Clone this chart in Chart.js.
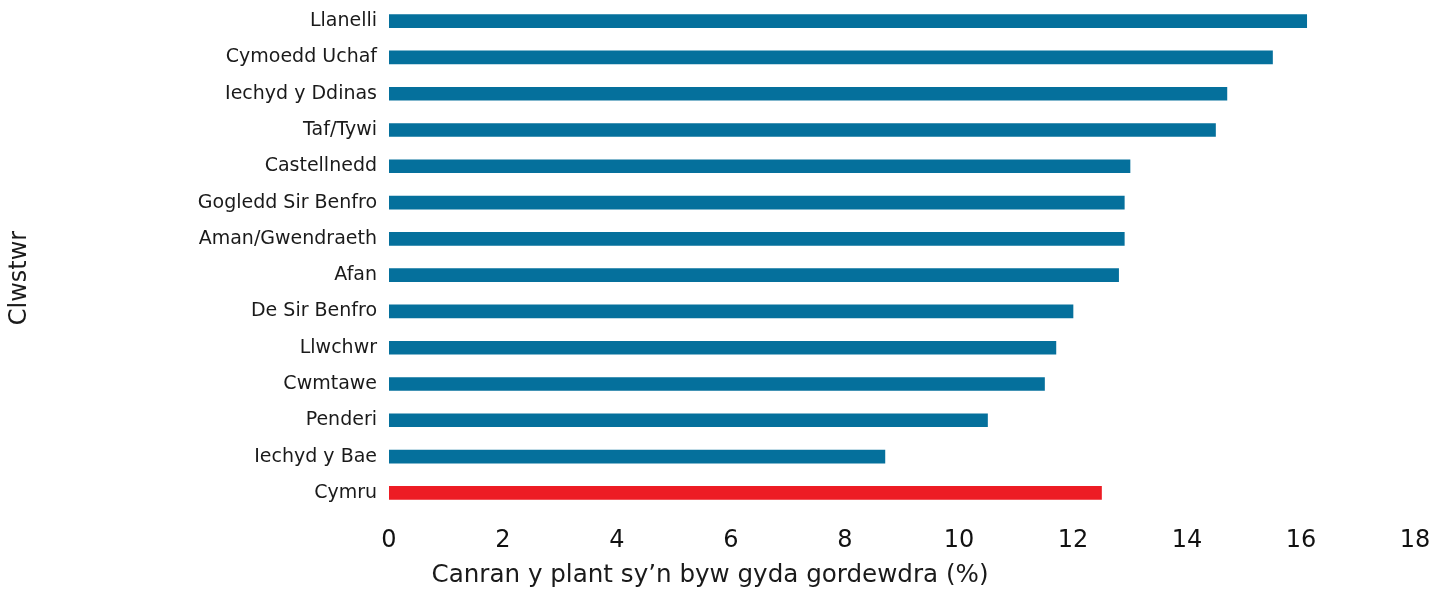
<!DOCTYPE html>
<html>
<head>
<meta charset="utf-8">
<script src="https://cdn.jsdelivr.net/npm/chart.js@4.4.0/dist/chart.umd.min.js"></script>
<style>
  html, body { margin: 0; padding: 0; background: #fff; }
  #wrap { width: 1444px; height: 591px; position: relative; }
</style>
</head>
<body>
<div id="wrap"><canvas id="chart"></canvas></div>
<script>
// Clystyrau a'r ganran o blant sy'n byw gyda gordewdra
const categories = [
  "Llanelli", "Cymoedd Uchaf", "Iechyd y Ddinas", "Taf/Tywi", "Castellnedd",
  "Gogledd Sir Benfro", "Aman/Gwendraeth", "Afan", "De Sir Benfro", "Llwchwr",
  "Cwmtawe", "Penderi", "Iechyd y Bae", "Cymru"
];
const values = [16.1, 15.5, 14.7, 14.5, 13.0, 12.9, 12.9, 12.8, 12.0, 11.7, 11.5, 10.5, 8.7, 12.5];
const xTicks = [0, 2, 4, 6, 8, 10, 12, 14, 16, 18];

const xTitle = "Canran y plant sy’n byw gyda gordewdra (%)";
const yTitle = "Clwstwr";

const BLUE = "#05709c";
const RED = "#ed1c24";
const FONT = "'DejaVu Sans', sans-serif";

// teitlau'r echelinau, wedi'u lleoli fel yn y llun gwreiddiol
const axisTitles = {
  id: "axisTitles",
  afterDraw(chart) {
    const ctx = chart.ctx;
    ctx.save();
    ctx.fillStyle = "#1a1a1a";
    ctx.font = "24.6px " + FONT;
    ctx.textAlign = "center";
    ctx.textBaseline = "middle";
    ctx.fillText(xTitle, 710, 576);
    ctx.font = "24px " + FONT;
    ctx.translate(20, 278);
    ctx.rotate(-Math.PI / 2);
    ctx.fillText(yTitle, 0, 0);
    ctx.restore();
  }
};

new Chart(document.getElementById("chart"), {
  type: "bar",
  data: {
    labels: categories,
    datasets: [{
      data: values,
      backgroundColor: categories.map(c => c === "Cymru" ? RED : BLUE),
      barThickness: 13,
      borderWidth: 0
    }]
  },
  options: {
    indexAxis: "y",
    responsive: true,
    maintainAspectRatio: false,
    animation: false,
    layout: { padding: { top: 3, right: 29, left: 0, bottom: 0 } },
    plugins: {
      legend: { display: false },
      tooltip: { enabled: false }
    },
    scales: {
      x: {
        min: 0,
        max: 18,
        afterBuildTicks(scale) {
          scale.ticks = xTicks.map(v => ({ value: v }));
        },
        afterFit(scale) { scale.height = 80; },
        grid: { display: false },
        border: { display: false },
        ticks: {
          padding: 7,
          color: "#111",
          font: { family: FONT, size: 24 }
        }
      },
      y: {
        afterFit(scale) {
          scale.width = 389;
          scale.paddingTop = 0;
          scale.paddingBottom = 0;
        },
        grid: { display: false },
        border: { display: false },
        ticks: {
          padding: 4,
          color: "#1a1a1a",
          font: { family: FONT, size: 19 }
        }
      }
    }
  },
  plugins: [axisTitles]
});
</script>
</body>
</html>
